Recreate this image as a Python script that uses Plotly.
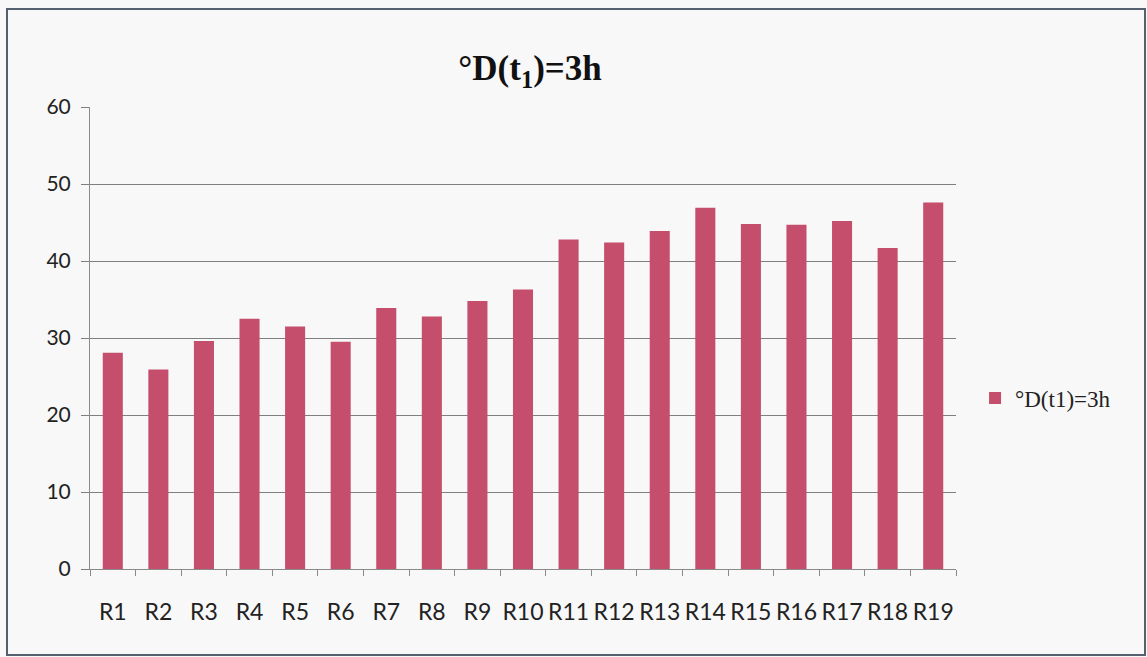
import plotly.graph_objects as go

# Dissolution degree at t1 = 3 h for each run
categories = [f"R{i}" for i in range(1, 20)]
values = [28.1, 25.9, 29.6, 32.5, 31.5, 29.5, 33.9, 32.8, 34.8, 36.3,
          42.8, 42.4, 43.9, 46.9, 44.8, 44.7, 45.2, 41.7, 47.6]
y_ticks = [0, 10, 20, 30, 40, 50, 60]
series_name = "°D(t1)=3h"
title_text = "<b>°D(t<sub>1</sub>)=3h</b>"

W, H = 1147, 657
L, R, T, B = 90, 191, 107, 88

bar_color = "#c44e6c"
grid_color = "#7f7f7f"

fig = go.Figure()
fig.add_trace(go.Bar(
    x=categories,
    y=values,
    name=series_name,
    marker=dict(color=bar_color, line=dict(width=0)),
    showlegend=True,
))

fig.update_layout(
    width=W, height=H,
    margin=dict(l=L, r=R, t=T, b=B, pad=0),
    paper_bgcolor="#f8f8f8",
    plot_bgcolor="#f8f8f8",
    bargap=0.56,
    title=dict(
        text=title_text,
        x=530 / W, xref="container", xanchor="center",
        y=1 - 68 / H, yref="container", yanchor="middle",
        font=dict(family="Liberation Serif", size=35, color="#111111"),
    ),
    showlegend=True,
    legend=dict(
        x=1.022, y=0.37, xanchor="left", yanchor="middle",
        font=dict(family="Liberation Serif", size=23, color="#222222"),
        bgcolor="rgba(0,0,0,0)",
        itemwidth=30,
    ),
    xaxis=dict(
        type="category",
        showline=True, linecolor="#8a8a8a", linewidth=1,
        ticks="outside", tickson="boundaries", ticklen=6, tickcolor="#8a8a8a",
        tickangle=0,
        tickfont=dict(family="Lato", size=23, color="#222222"),
        ticklabelstandoff=22,
        showgrid=False,
    ),
    yaxis=dict(
        range=[0, 60],
        tickvals=y_ticks,
        showline=True, linecolor="#8a8a8a", linewidth=1,
        ticks="outside", ticklen=8, tickcolor="#7f7f7f",
        tickfont=dict(family="Lato", size=21, color="#222222"),
        ticklabelstandoff=6,
        showgrid=True, gridcolor=grid_color, gridwidth=1,
        zeroline=False,
    ),
    shapes=[
        dict(
            type="rect", xref="paper", yref="paper",
            x0=(7 - L) / (W - L - R), x1=(1145 - L) / (W - L - R),
            y0=(H - B - 655) / (H - T - B), y1=(H - B - 9) / (H - T - B),
            line=dict(color="#55606e", width=2),
            fillcolor="rgba(0,0,0,0)",
            layer="below",
        )
    ],
)

fig.write_html("out.html")
